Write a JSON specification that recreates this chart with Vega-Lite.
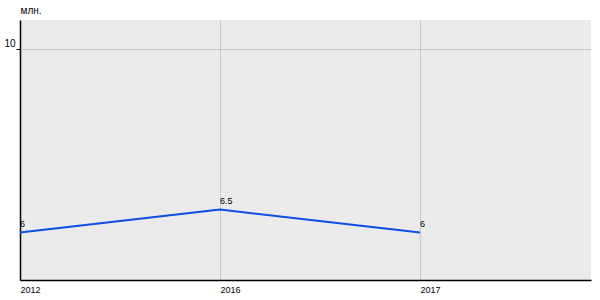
{
  "$schema": "https://vega.github.io/schema/vega-lite/v6.json",
  "width": 571,
  "height": 260,
  "autosize": {"type": "none"},
  "padding": {"left": 20, "top": 20, "right": 9, "bottom": 20},
  "background": "white",
  "config": {
    "view": {"fill": "#ebebeb", "stroke": null},
    "font": "Liberation Sans"
  },
  "data": {
    "values": [
      {"year": "2012", "value": 6},
      {"year": "2016", "value": 6.5},
      {"year": "2017", "value": 6}
    ]
  },
  "encoding": {
    "x": {
      "field": "year",
      "type": "ordinal",
      "sort": null,
      "scale": {"type": "point", "padding": 0.4275, "align": 0},
      "axis": {
        "title": null,
        "labelAngle": 0,
        "labelAlign": "left",
        "labelFontSize": 9,
        "labelColor": "#000000",
        "labelPadding": 5,
        "ticks": false,
        "grid": true,
        "gridColor": "#c8c8c8",
        "gridWidth": 1,
        "domainColor": "#000000",
        "domainWidth": 1.5
      }
    },
    "y": {
      "field": "value",
      "type": "quantitative",
      "scale": {"domain": [4.97, 10.62], "nice": false, "zero": false},
      "axis": {
        "title": "млн.",
        "titleAngle": 0,
        "titleAlign": "left",
        "titleBaseline": "bottom",
        "titleX": 0,
        "titleY": -5,
        "titleFontSize": 10,
        "titleFontWeight": "normal",
        "titleColor": "#000000",
        "values": [10],
        "labelFontSize": 10,
        "labelColor": "#000000",
        "tickSize": 4,
        "tickColor": "#000000",
        "labelPadding": 1,
        "labelBaseline": "bottom",
        "grid": true,
        "gridColor": "#c8c8c8",
        "domainColor": "#000000",
        "domainWidth": 1.5
      }
    }
  },
  "layer": [
    {
      "mark": {"type": "line", "color": "#0a4fe6", "strokeWidth": 2, "interpolate": "linear"}
    },
    {
      "mark": {"type": "text", "align": "left", "baseline": "bottom", "dy": -4, "dx": 0, "fontSize": 9, "color": "#000000"},
      "encoding": {"text": {"field": "value", "type": "quantitative"}}
    }
  ]
}
